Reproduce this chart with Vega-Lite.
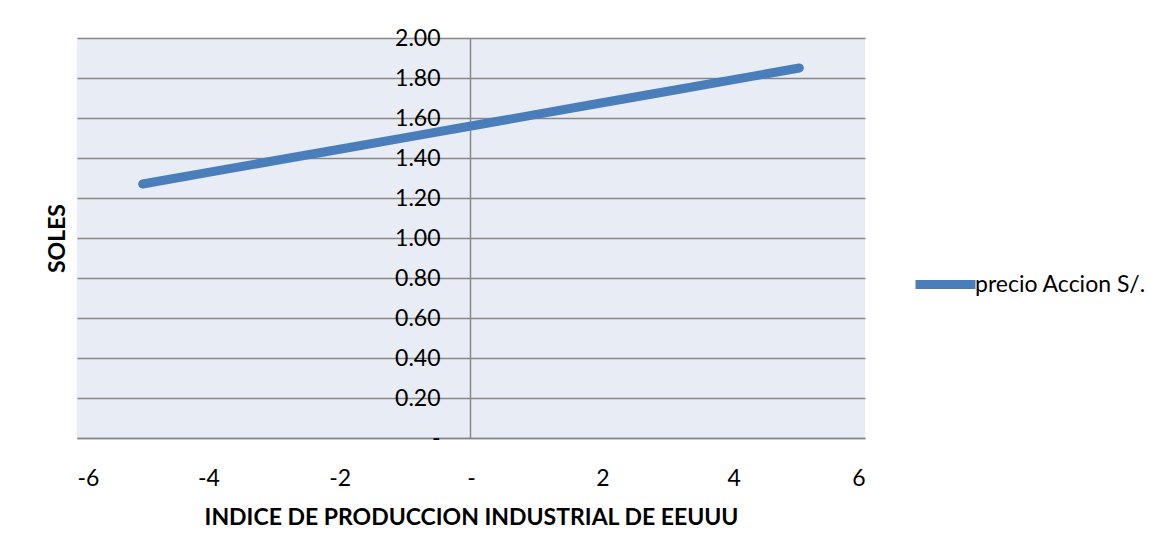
{
  "$schema": "https://vega.github.io/schema/vega-lite/v6.json",
  "autosize": "none",
  "width": 788,
  "height": 400,
  "padding": {"left": 77, "top": 38, "right": 307, "bottom": 118},
  "background": "white",
  "config": {
    "view": {"fill": "#E8ECF4", "stroke": null},
    "font": "Lato"
  },
  "data": {
    "values": [
      {"indice": -5, "precio": 1.27, "serie": "precio Accion S/."},
      {"indice": -4, "precio": 1.328, "serie": "precio Accion S/."},
      {"indice": -3, "precio": 1.386, "serie": "precio Accion S/."},
      {"indice": -2, "precio": 1.444, "serie": "precio Accion S/."},
      {"indice": -1, "precio": 1.502, "serie": "precio Accion S/."},
      {"indice": 0, "precio": 1.56, "serie": "precio Accion S/."},
      {"indice": 1, "precio": 1.618, "serie": "precio Accion S/."},
      {"indice": 2, "precio": 1.676, "serie": "precio Accion S/."},
      {"indice": 3, "precio": 1.734, "serie": "precio Accion S/."},
      {"indice": 4, "precio": 1.792, "serie": "precio Accion S/."},
      {"indice": 5, "precio": 1.85, "serie": "precio Accion S/."}
    ]
  },
  "mark": {"type": "line", "strokeWidth": 9, "strokeCap": "round", "strokeJoin": "round"},
  "encoding": {
    "x": {
      "field": "indice", "type": "quantitative",
      "scale": {"domain": [-6, 6], "nice": false, "zero": false},
      "axis": {
        "orient": "bottom",
        "values": [-6, -4, -2, 0, 2, 4, 6],
        "labelExpr": "datum.value == 0 ? '-' : '' + datum.value",
        "grid": false, "ticks": false,
        "domainColor": "#868686", "domainWidth": 1.5,
        "labelFont": "Lato", "labelFontSize": 23, "labelColor": "#000000",
        "labelPadding": 29,
        "title": "INDICE DE PRODUCCION INDUSTRIAL DE EEUUU",
        "titleFont": "Lato", "titleFontSize": 23, "titleFontWeight": "bold", "titleColor": "#000000",
        "titlePadding": 16
      }
    },
    "y": {
      "field": "precio", "type": "quantitative",
      "scale": {"domain": [0, 2], "nice": false},
      "axis": {
        "orient": "left",
        "offset": -393,
        "values": [0, 0.2, 0.4, 0.6, 0.8, 1, 1.2, 1.4, 1.6, 1.8, 2],
        "labelExpr": "datum.value == 0 ? '-' : format(datum.value, '.2f')",
        "grid": true, "gridColor": "#868686", "gridWidth": 1.5,
        "ticks": false,
        "domainColor": "#868686", "domainWidth": 1.5,
        "labelFont": "Lato", "labelFontSize": 23, "labelColor": "#000000",
        "labelPadding": 30,
        "title": "SOLES",
        "titleFont": "Lato", "titleFontSize": 23, "titleFontWeight": "bold", "titleColor": "#000000",
        "titleX": -401
      }
    },
    "color": {
      "field": "serie", "type": "nominal",
      "scale": {"range": ["#4A7EBB"]},
      "legend": {
        "orient": "none",
        "legendX": 834,
        "legendY": 212,
        "title": null,
        "symbolType": "stroke",
        "symbolSize": 3600,
        "symbolStrokeWidth": 9,
        "labelFont": "Lato", "labelFontSize": 23, "labelColor": "#000000",
        "labelOffset": -5,
        "labelLimit": 400
      }
    }
  }
}
